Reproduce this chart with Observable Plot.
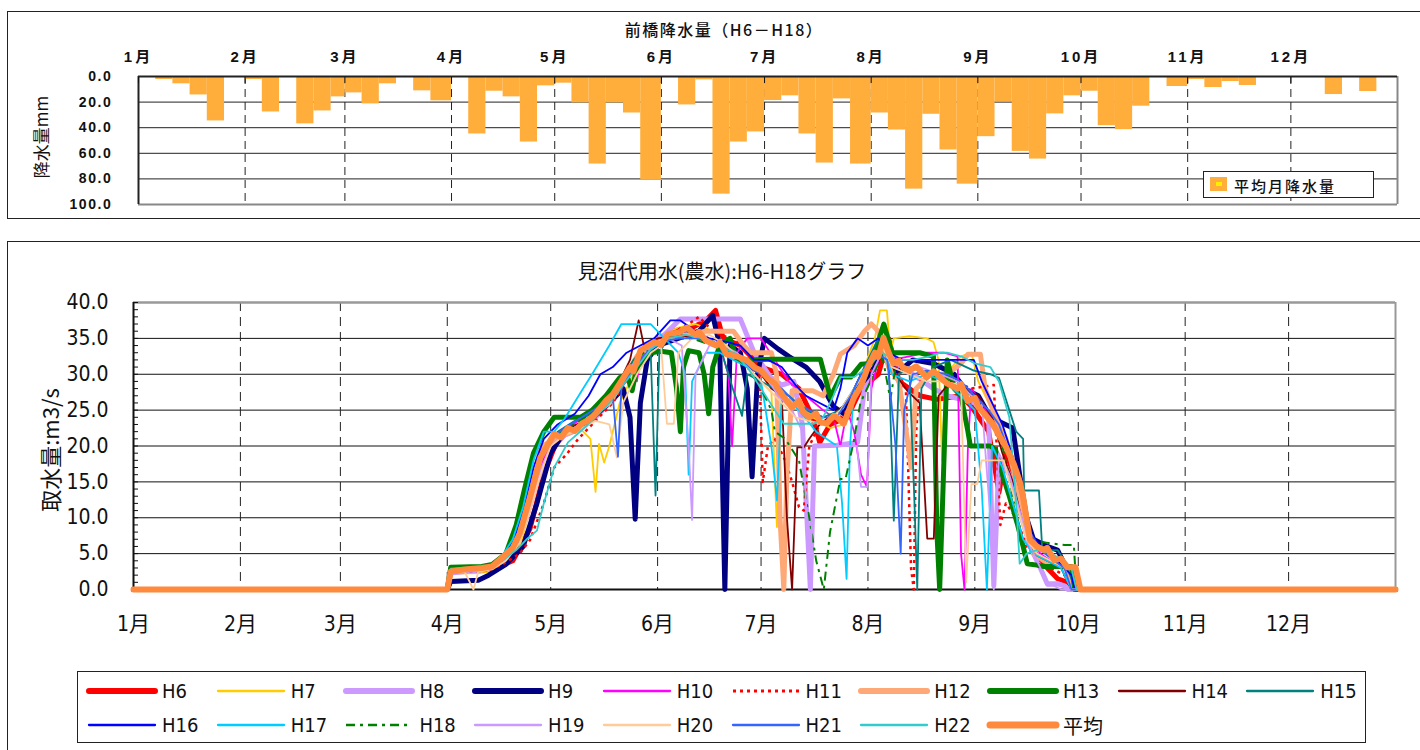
<!DOCTYPE html>
<html lang="ja">
<head>
<meta charset="utf-8">
<title>見沼代用水(農水):H6-H18グラフ</title>
<script src="https://cdn.jsdelivr.net/npm/d3@7"></script>
<script src="https://cdn.jsdelivr.net/npm/@observablehq/plot@0.6"></script>
<style>
  html, body { margin: 0; padding: 0; background: #fff; }
  #page { position: relative; width: 1420px; height: 750px; overflow: hidden; background: #fff;
          font-family: "Noto Sans CJK JP", "Noto Sans", sans-serif; color: #111; }
  .panel { position: absolute; border: 1.5px solid #222; border-right: none; }
  #rain-panel { left: 7px; top: 11px; width: 1420px; height: 206px; }
  #flow-panel { left: 7px; top: 241px; width: 1420px; height: 530px; border-bottom: none; }
  .chart { position: absolute; left: 0; }
  #rain-chart { top: 0; }
  #flow-chart { top: 240px; }
  .title { position: absolute; white-space: nowrap; transform: translateX(-50%); line-height: 1; }
  #rain-title { left: 724px; top: 21px; font-size: 16px; letter-spacing: 1.5px; font-weight: 500; }
  #flow-title { left: 722px; top: 261px; font-size: 20px; font-weight: 400; }
  .ylabel { position: absolute; white-space: nowrap; line-height: 1; transform: translate(-50%, -50%) rotate(-90deg); }
  #rain-ylabel { left: 40px; top: 137px; font-size: 17px; }
  #flow-ylabel { left: 49px; top: 450px; font-size: 22px; }
  #rain-legend { position: absolute; left: 1203px; top: 171px; width: 169px; height: 25px;
                 border: 1px solid #222; background: #fff; }
  #rain-legend .sw { position: absolute; left: 6px; top: 5px; width: 17px; height: 14px; background: #ffad3b; }
  #rain-legend .sw i { position: absolute; left: 6px; top: 5px; width: 6px; height: 4px; background: #ffee00; }
  #rain-legend span { position: absolute; left: 30px; top: 3px; font-size: 15px; letter-spacing: 2px; font-weight: 500; }
  #flow-legend { position: absolute; left: 77px; top: 671px; width: 1287px; height: 70px;
                 border: 1px solid #222; background: #fff; }
  .entry { position: absolute; height: 24px; display: flex; align-items: center; }
  .entry span { margin-left: 3px; font-size: 20px;
                font-family: "Liberation Sans Narrow", "DejaVu Sans Condensed", "Noto Sans CJK JP", sans-serif; }
  #rain-chart g[aria-label="x-axis tick label"] text { letter-spacing: 3px; }
  #rain-chart g[aria-label="y-axis tick label"] text { letter-spacing: 1.6px; }
</style>
</head>
<body>
<div id="page">
  <div class="panel" id="rain-panel"></div>
  <div class="panel" id="flow-panel"></div>
  <div class="chart" id="rain-chart"></div>
  <div class="chart" id="flow-chart"></div>
  <div class="title" id="rain-title">前橋降水量（H6－H18）</div>
  <div class="title" id="flow-title">見沼代用水(農水):H6-H18グラフ</div>
  <div class="ylabel" id="rain-ylabel">降水量mm</div>
  <div class="ylabel" id="flow-ylabel">取水量:m3/s</div>
  <div id="rain-legend"><div class="sw"><i></i></div><span>平均月降水量</span></div>
  <div id="flow-legend"></div>
</div>
<script>
// ---- calendar (leap-year day axis) ----
const months = ["1月", "2月", "3月", "4月", "5月", "6月", "7月", "8月", "9月", "10月", "11月", "12月"];
const monthLengths = [31, 29, 31, 30, 31, 30, 31, 31, 30, 31, 30, 31];

// ---- axis ticks ----
const rainTicks = [0, 20, 40, 60, 80, 100];
const flowTicks = [0, 5, 10, 15, 20, 25, 30, 35, 40];

// ---- Maebashi rainfall, mm per half-decade (6 periods per month) ----
const rainfall = [
  0, 2.3, 5.7, 14.4, 34.7, 0,        // Jan
  2.3, 27.7, 0, 37, 26.9, 15.9,      // Feb
  12.8, 21.4, 5.7, 0, 11.2, 19,      // Mar
  0, 44.9, 11.5, 15.9, 51.2, 7.3,    // Apr
  5.2, 20.6, 68.4, 20.6, 28.5, 80.9, // May
  0, 22.2, 2.6, 91.9, 51.2, 43.3,    // Jun
  18.8, 15.1, 44.9, 67.6, 17.5, 68.4,// Jul
  28.5, 41.8, 88, 29.5, 57.4, 84.1,  // Aug
  47, 19.6, 58.5, 64.5, 29.2, 15.1,  // Sep
  11.5, 38.4, 41.5, 23.2, 0, 7.8,    // Oct
  2.3, 8.6, 3.9, 7.0, 0, 0,          // Nov
  0, 0, 14.1, 0, 11.7, 0             // Dec
];

// ---- daily intake, m3/s : [day of year, value] ----
const h6 = [[0,0],[91,0],[92,2.5],[104,2.8],[110,4],[115,8.5],[119,16],[123,21],[130,23],[138,26],[145,31],[150,34],[156,36],[162,36.5],[166,37.5],[168.8,38.9],[171,35],[176,34],[182,31],[188,30],[193,28],[197,24],[199,20.5],[202,23],[207,24],[211,28],[216,30],[219,35],[222,29],[228,27],[233,26.5],[240,27],[243,25.5],[248,22],[251,13.5],[253,19],[257,14],[260,6],[265,3],[268,1.5],[271,1],[273,0],[366,0]];
const h7 = [[0,0],[91,0],[92,2.2],[100,2.3],[104,2.5],[108,3.5],[112,6],[115,11],[118,17],[121,20.5],[126,21.5],[130,22.2],[132.5,21],[134,13.6],[135,20.3],[136.5,17.7],[138,20],[141,26],[145,30],[149,34],[153,35.5],[158,36.5],[163,37],[168,36],[173,33.5],[178,31],[182,29],[185,27.5],[186.6,8.7],[188,27],[192,27],[197,24],[202,22.5],[206,23],[209,27],[212,31],[215,35],[216.5,38.9],[218.5,38.9],[219.5,33],[220.5,35],[225,35.3],[230,35],[232,34.5],[233.5,32],[234.5,18],[235.5,30],[240,32.5],[243,33],[245,29],[249,25],[253,20],[256,15],[259,8],[262,5],[266,3.5],[270,2.8],[273,2],[274,0],[366,0]];
const h8 = [[0,0],[91,0],[92,2.3],[102,2.8],[107,4],[111,6.5],[114,10],[117,15],[121,19.5],[125,21.5],[130,22.5],[134,24],[138,26],[142,29],[146,32],[150,34],[154,35.5],[158.6,37.7],[168,37.7],[176,37.7],[180,33],[184.7,29.6],[188,28.5],[191.5,29],[194,23],[196.3,0],[197.5,20],[204,20.1],[210,20.5],[212,28],[215,33],[218,35],[221,31],[226,30],[232,28],[236,27],[240,26.5],[244,26],[248,24],[249.5,0.5],[251,18],[254,16],[257,11],[260,6],[263,3],[265,0.8],[268,0.8],[270,0.5],[271,0],[366,0]];
const h9 = [[0,0],[91,0],[92,1.1],[100,1.3],[103,2],[108,3.5],[113,6],[117,12],[121,19],[125,22],[131,23],[138,26],[142,28],[144,24],[145.5,9.8],[147,26],[149,32],[152,34],[158,35],[164,36],[168,38.2],[170,34],[171.5,0],[173,34],[176,33],[178,28],[179.4,15.7],[181,30],[183,35],[187,33.5],[190,32.5],[195,31],[199,29],[203,25.5],[206,24.5],[210,28],[215,31],[218,34.5],[221,30],[226,32],[232,31.5],[238,30],[241,28],[245,27],[248.5,24],[255,22.5],[257,16],[259,10],[261,7],[265,6],[268,5.5],[270,3.5],[272,2.5],[273,0],[366,0]];
const h10 = [[0,0],[91,0],[92,2.6],[102,2.9],[107,4],[111,6],[114,10],[117,16],[120,19.5],[124,22],[129,23.5],[133,24],[137,26],[141,28.5],[145,31.5],[146,29],[147,32],[151,34.5],[156,35.5],[161,36],[166,35],[170,34],[172.5,30],[173.6,20],[175,33],[178,35],[182,35],[186,32],[190,29],[195,27],[200,25],[203,24],[205,20],[207,25],[209,22],[211,16],[212.7,14.3],[214,28],[217,34],[220,32],[225,32.5],[230,33],[235,33],[239,32.5],[240,5],[241,0],[242,20],[243,28],[246,26],[250,23],[254,18.5],[257,13],[260,7],[263,5],[266,4],[270,3],[272,0],[366,0]];
const h11 = [[0,0],[91,0],[92,2.4],[102,2.6],[107,3.5],[112,5],[115,6.9],[119,12],[122,17],[125.7,18.9],[129,21],[134,23.5],[139,26],[144,30],[149,33.5],[155,35.5],[161,37],[164,38],[168,36],[173,35],[177,34],[180,32],[181.5,31],[182,23],[182.5,15],[184,20],[186,21],[189,18],[191,15],[193,11.5],[194.4,11],[196,20],[199,23],[204,23.5],[207,25],[211,29],[215,31],[219,33],[222,30],[224,28],[225.5,3],[226.3,0],[227,22],[228,29],[233,30],[238,29],[243,28],[249.5,28.5],[251.4,9],[253,12],[256,10],[259,6],[263,4],[266,3],[270,2],[272,0],[366,0]];
const h12 = [[0,0],[91,0],[92,2.8],[100,3],[104,3.2],[108,4.5],[112,8],[115,13],[118,19.8],[122,21],[127,22],[131,23.5],[135,25],[138,26],[142,29],[146,32.5],[150,34],[155,35],[161,35.5],[166,36],[170,36],[174,36],[177,34],[179,33],[185,33],[186.5,30],[187.5,10],[188.6,0],[189.5,16],[191,27.7],[197,27.7],[200,27],[203,30],[205,32.8],[209,34],[212,36],[214,37],[216,36],[219,31],[222,29],[224.4,21],[225.5,17],[227,28],[231,30],[236,30],[240,31.5],[242,32.8],[245.6,32.8],[247,28],[250,24],[253,21],[256,15],[259,9],[261,5],[264,4],[267,3.5],[271,3],[273,0],[366,0]];
const h13 = [[0,0],[91,0],[92,3.1],[101,3.2],[104,3.5],[108,5],[111,9],[113.3,13.8],[116,19],[119,22],[122,24],[129.6,24],[133,25],[137,27],[141,29.5],[143,30],[144.6,27.7],[146,31],[150,33],[153,33.2],[156,33],[157.5,28],[158.6,22],[159.5,31],[161,33.3],[164,33],[165.5,30],[166.8,24.5],[168,31],[170,34],[173,35],[175,32],[178,32],[185,32.1],[193,32.1],[199.2,32.1],[202.1,26.8],[205,29.6],[208,29.6],[211,31.4],[214,31.5],[217.6,37],[220,33],[224,33],[228,33],[232,32.5],[233,8],[233.8,0],[234.5,10],[236,32],[238,28],[240,27],[242,22],[242.7,20],[248.5,20],[250,19.5],[252,16],[254,13],[256.3,9.2],[258,6],[259.2,3.6],[262,3.4],[264,3.2],[272,3.2],[273,0],[366,0]];
const h14 = [[0,0],[91,0],[92,2.5],[102,2.8],[107,4],[111,7],[114,11],[117,17],[121,21],[126,22.5],[131,23.5],[136,25.5],[140,28],[144,32],[146.5,37.5],[148,34],[152,35],[158,35.5],[164,35],[169,34],[174,33],[178,31],[182,30],[185,28],[188,27],[189.5,10],[191,0],[192.5,19.8],[194.4,19.8],[196,21],[199,23],[203,24.5],[207,26],[211,30],[215,32],[218,34],[221,30],[224.4,27.7],[228,26],[230.2,7.1],[232.1,7.1],[233.5,27],[237,29],[241,28],[245,27],[249,24],[252,19],[255,15],[258,9],[261,5],[265,4],[269,3],[272,0],[366,0]];
const h15 = [[0,0],[91,0],[92,2.6],[102,3],[106,4],[110,6],[113,10],[116,15],[119,19],[123,22],[128,23.5],[133,24.5],[137,26],[141,29],[145,32],[148,33.5],[150,33],[151.4,13.1],[152.5,33],[155,35],[160,36],[165,35.5],[170,34],[174,27.7],[176.5,24.2],[178,30],[182,29],[186,28],[190,27],[195,25],[200,24],[205,25],[209,28],[213,32],[216,35],[219,32],[220.5,9.6],[222,30],[225,31],[226.5,12],[227.3,0],[228.5,28],[232,31],[237,32],[243.7,30.5],[248.5,30],[251,29.5],[254,25],[256,22],[258,21],[258.3,13.8],[262.6,13.8],[263.5,6],[265,5.5],[268,5.5],[270,4],[272,1.5],[274,0],[366,0]];
const h16 = [[0,0],[91,0],[92,2.7],[102,3],[106,4],[110,6.5],[113,11],[116,17],[119,21],[123,23],[128,24.5],[132,27],[135.4,30],[139,31],[143,33],[147,34],[151,35],[155.7,37.5],[158.6,37.5],[163,36],[167,35],[172,34.5],[176,34],[180,32],[184,32],[188,31],[192,28.5],[195,27],[199,26],[203,25],[205,28],[207,33],[210,35],[213,34],[216,35],[219,33],[223,32],[228,32],[232,32],[236,32],[240,32],[243.7,32],[246,29],[249,26],[252,23],[254,20],[256,17],[258,14],[260,8],[263,6],[266,5],[269,3.5],[272,2],[273,0],[366,0]];
const h17 = [[0,0],[91,0],[92,2.5],[102,2.8],[106,4],[110,7],[113,11.5],[116,18],[119,22],[122,22],[125,23.8],[130,27.7],[133,30],[138,34],[141.5,37],[146,37],[150,37],[154,35],[158,33],[160,30],[161,16],[162,29],[166,33],[170,33],[174,32],[178,31],[182,29],[185,20],[186.6,12.4],[188,27],[193,25],[198,22],[204,20],[205.5,12],[206.8,1.5],[207.8,20],[209,28],[213,31],[217,34],[220,30],[225,29],[230,30],[235,29],[240,27],[244,25],[246,14],[247.5,0],[249,20],[252,17],[255,12],[258,7],[261,5],[265,4],[269,3],[272,0],[366,0]];
const h18 = [[0,0],[91,0],[92,2.4],[102,2.7],[107,4],[111,7],[114,12],[117,17],[121,21],[126,22.5],[131,24],[136,25.5],[140,28],[145,31.5],[150,34],[156,35],[162,35],[168,34],[173,33],[178,31],[182,28],[185,25],[186,22],[189,21],[193,18],[196,10],[198,4],[200.2,0],[202,8],[205,15.4],[206.5,15.4],[208.9,20.7],[210.8,26],[214.7,30],[217,33],[219.5,26.5],[221,31],[226,31],[232,30],[238,29],[243,27],[248,24],[252,20],[255,13],[257.3,10],[260,7],[265,6.5],[270,6.2],[272.7,6.2],[273.5,0],[366,0]];
const h19 = [[0,0],[91,0],[92,2.3],[102,2.6],[107,3.8],[111,6],[114,10],[117,15.5],[121,20],[125,22],[130,23],[135,25],[139,27.5],[143,30],[147,33],[151,34],[155,35],[159,34],[161,20],[162,9.7],[163,30],[167,34],[171,34],[175,33],[179,31],[183,30],[187,27],[191,25],[194,22],[196.3,0],[197.2,20],[204,20],[209.8,20],[211,14.3],[212.8,14.3],[214,30],[218,34],[222,31],[228,31],[234,30],[239,29],[243,27],[246,26],[248.5,10],[249.5,0],[251,19],[254,16],[257,11],[260,6],[263,3],[265,0.5],[267,0.5],[269,0],[366,0]];
const h20 = [[0,0],[91,0],[92,2.5],[96,2.5],[98.6,0],[100,2.5],[104,2.8],[108,4],[112,6.5],[115,11],[118,16],[121,20],[125,21.5],[130,22.5],[134,23.5],[138,23],[140.2,18.4],[142,26],[146,30],[150,33],[153,34],[154.7,23.1],[156.7,23.1],[158,33],[162,35],[167,35.5],[172,34],[176,32],[180,30],[184,28],[188,26],[192,24],[196,23.5],[200,23],[205,25],[209,28],[213,31],[217,34],[220,31],[225,30],[230,29],[235,29],[240,28.5],[241.5,1],[243,14.7],[244.7,14.7],[246,18],[252.4,18],[254,15],[256,12],[259,7],[262,5],[266,4],[270,3],[272,0],[366,0]];
const h21 = [[0,0],[91,0],[92,2.6],[102,2.9],[107,4.2],[111,7],[114,11.5],[117,17],[121,21],[125,22.5],[130,24],[135,25.5],[139,27],[140.5,18.5],[141.5,28],[145,31],[149,33],[153,34.5],[158,35],[163,35],[168,34.5],[172,33.5],[176,32],[180,30.5],[184,29.5],[188,28],[192,26],[196,25],[200,24],[204,24],[208,27],[212,31],[215,33],[218.6,32],[221,20],[222.5,5],[223.5,25],[226,30],[230,30.5],[236,30],[240,29],[244,27],[248,25],[251,23],[254,19],[257,14],[260,8],[263,5.5],[267,4],[270,3],[272,0],[366,0]];
const h22 = [[0,0],[91,0],[92,2.9],[102,3.2],[107,4],[111,5.5],[114,7],[117,8.2],[119,12],[122,17],[126,20.5],[130,22.2],[134,24],[138,26],[142,28.5],[146,31],[150,33.5],[155,35],[160,35.5],[165,35],[170,34],[174,33],[178,31],[182,28],[186,25],[188.6,23.1],[197.3,23.1],[200,24],[203,27],[205,29.6],[209,29.6],[213,31],[217,33],[221,32],[226,32],[231,32.5],[234,33],[236,33],[240,32.5],[244,31.5],[248.5,31],[251,29],[254,24],[256,12],[257,3.6],[259,5],[262,5.5],[266,5],[270,4],[272,3],[273.5,0],[366,0]];
const average = [[0,0],[91,0],[92,2.5],[96,2.8],[101,3],[104,3.2],[107,4.5],[110,5.8],[112,7.8],[115,12.9],[118,18.4],[122,21.7],[124,21.2],[126,22.5],[128,22.1],[130,23.1],[132,23.6],[134,24.5],[137,26.3],[139,27.2],[141,28.7],[144,31],[145,30.4],[147,33.3],[149,33.9],[151,34.5],[153,34.1],[155,35.6],[158,35.8],[160.5,36.5],[163,35.5],[164,35.9],[166,34.7],[169,34],[170,34.5],[172,32.8],[175,32.5],[178,31.9],[180,31],[182,30.5],[184,29.4],[186,28.7],[188,27.2],[191,25.4],[193,26.3],[194,24.9],[196,24],[198,24.5],[199,23.4],[201,23.1],[203,24.2],[204,24],[206,23.1],[207,24.4],[209,26.8],[211,28.4],[213,31],[215,33],[216,32.4],[217.5,35.1],[219,33],[220.4,31.5],[222,31.9],[223,31],[225,30.5],[227,31.1],[230,29.6],[232,30.4],[233,30],[235,29.1],[236,28.7],[239,28],[240,28.6],[242,26.3],[244,26.7],[245,25.5],[247.6,24],[249,23.2],[251.4,21.2],[253,19.9],[255.3,17.5],[257,15.1],[258,12.9],[260,6.9],[262,6],[264,5.5],[265,5.8],[267,4.1],[269,4.3],[270.8,3.1],[273.2,3.1],[274.6,0],[366,0]];

// ---- series order, data and styling ----
const seriesNames = ["H6","H7","H8","H9","H10","H11","H12","H13","H14","H15","H16","H17","H18","H19","H20","H21","H22","平均"];
const seriesData = {H6: h6, H7: h7, H8: h8, H9: h9, H10: h10, H11: h11, H12: h12, H13: h13, H14: h14,
  H15: h15, H16: h16, H17: h17, H18: h18, H19: h19, H20: h20, H21: h21, H22: h22, "平均": average};
const seriesStyle = {
  H6:  {stroke: "#ff0000", width: 5},
  H7:  {stroke: "#ffcc00", width: 1.8},
  H8:  {stroke: "#cc99ff", width: 5},
  H9:  {stroke: "#000080", width: 5},
  H10: {stroke: "#ff00ff", width: 1.8},
  H11: {stroke: "#ff0000", width: 2.5, dash: "3,4"},
  H12: {stroke: "#ffa877", width: 5},
  H13: {stroke: "#008000", width: 5},
  H14: {stroke: "#800000", width: 1.8},
  H15: {stroke: "#008080", width: 1.8},
  H16: {stroke: "#0000ff", width: 1.8},
  H17: {stroke: "#00ccff", width: 1.8},
  H18: {stroke: "#008000", width: 2, dash: "9,5,3,5"},
  H19: {stroke: "#cc99ff", width: 1.8},
  H20: {stroke: "#ffcc99", width: 1.8},
  H21: {stroke: "#3366ff", width: 1.8},
  H22: {stroke: "#33cccc", width: 1.8},
  "平均": {stroke: "#ff8a3d", width: 6}
};

const monthStarts = Array.from(d3.cumsum([0, ...monthLengths.slice(0, 11)]));
const yearLength = d3.sum(monthLengths);
const monthLabel = d => months[monthStarts.indexOf(d)];
const boldFont = "'Liberation Sans', 'Noto Sans CJK JP', sans-serif";
const narrowFont = "'Liberation Sans Narrow', 'DejaVu Sans Condensed', 'Noto Sans CJK JP', sans-serif";

// half-decade periods: days 1-5, 6-10, ..., 26-end of month
const rainPeriods = rainfall.map((mm, i) => {
  const m = Math.floor(i / 6), k = i % 6;
  const x1 = monthStarts[m] + 5 * k;
  const x2 = k < 5 ? x1 + 5 : monthStarts[m] + monthLengths[m];
  return {x1, x2, mm};
});

// ---- rainfall chart (bars hang from the top axis) ----
const rainChart = Plot.plot({
  width: 1420, height: 220,
  marginLeft: 138, marginRight: 23, marginTop: 76, marginBottom: 16,
  style: {background: "transparent", color: "#111", overflow: "visible"},
  x: {domain: [0, yearLength], label: null},
  y: {domain: [rainTicks[0], rainTicks[rainTicks.length - 1]], reverse: true, label: null},
  marks: [
    Plot.ruleY(rainTicks.slice(1, -1), {stroke: "#222", strokeWidth: 1}),
    Plot.ruleX(monthStarts.slice(1), {stroke: "#222", strokeWidth: 1, strokeDasharray: "8,5"}),
    Plot.rectY(rainPeriods, {x1: "x1", x2: "x2", y1: 0, y2: "mm", fill: "#ffad3b"}),
    Plot.ruleY([rainTicks[rainTicks.length - 1]], {stroke: "#888", strokeWidth: 2}),
    Plot.ruleX([yearLength], {stroke: "#888", strokeWidth: 2}),
    Plot.ruleY([rainTicks[0]], {stroke: "#222", strokeWidth: 2}),
    Plot.ruleX([0], {stroke: "#222", strokeWidth: 2}),
    Plot.axisX(monthStarts, {anchor: "top", tickSize: -6, tickFormat: () => "", label: null}),
    Plot.axisX(monthStarts, {anchor: "top", tickSize: 0, tickPadding: 15, tickFormat: monthLabel, label: null,
      fontSize: 15, fontWeight: "bold", fontFamily: boldFont}),
    Plot.axisY(rainTicks, {anchor: "left", tickSize: 0, tickPadding: 26, tickFormat: d => d.toFixed(1), label: null,
      fontSize: 14, fontWeight: "bold", fontFamily: boldFont})
  ]
});
document.getElementById("rain-chart").append(rainChart);

// ---- daily intake chart ----
const flowMarks = [
  Plot.ruleY(flowTicks.slice(1, -1), {stroke: "#111", strokeWidth: 1}),
  Plot.ruleX(monthStarts.slice(1), {stroke: "#222", strokeWidth: 1, strokeDasharray: "9,6"}),
  Plot.ruleY([flowTicks[flowTicks.length - 1]], {stroke: "#999", strokeWidth: 2.5}),
  Plot.ruleX([yearLength], {stroke: "#999", strokeWidth: 2}),
  Plot.ruleY([flowTicks[0]], {stroke: "#111", strokeWidth: 2}),
  Plot.ruleX([0], {stroke: "#111", strokeWidth: 2}),
  Plot.axisY(d3.range(flowTicks[0], flowTicks[flowTicks.length - 1] + 1), {anchor: "left", tickSize: -5, tickFormat: () => "", label: null}),
  Plot.axisY(flowTicks, {anchor: "left", tickSize: 0, tickPadding: 25, tickFormat: d => d.toFixed(1), label: null,
    fontSize: 21, fontFamily: narrowFont}),
  Plot.axisX(monthStarts, {anchor: "bottom", tickSize: 0, tickPadding: 27, tickFormat: monthLabel, label: null,
    fontSize: 21, fontFamily: narrowFont})
];
for (const name of seriesNames) {
  const s = seriesStyle[name];
  flowMarks.push(Plot.line(seriesData[name], {
    stroke: s.stroke, strokeWidth: s.width,
    strokeDasharray: s.dash, strokeLinecap: s.dash ? "butt" : "round", strokeLinejoin: "round"
  }));
}
const flowChart = Plot.plot({
  width: 1420, height: 410,
  marginLeft: 133, marginRight: 25, marginTop: 62, marginBottom: 61,
  style: {background: "transparent", color: "#111", overflow: "visible"},
  x: {domain: [0, yearLength], label: null},
  y: {domain: [flowTicks[0], flowTicks[flowTicks.length - 1]], label: null},
  marks: flowMarks
});
document.getElementById("flow-chart").append(flowChart);

// ---- intake legend ----
const legend = document.getElementById("flow-legend");
seriesNames.forEach((name, i) => {
  const s = seriesStyle[name];
  const col = i < 10 ? i : i - 10, row = i < 10 ? 0 : 1;
  const entry = document.createElement("div");
  entry.className = "entry";
  entry.style.left = (7 + col * 128.7) + "px";
  entry.style.top = (row === 0 ? 7 : 41) + "px";
  const cap = s.dash ? "butt" : "round";
  const w = Math.min(s.width + (s.width > 3 ? 1 : 0.5), 7);
  entry.innerHTML =
    `<svg width="74" height="12"><line x1="4" x2="70" y1="6" y2="6" stroke="${s.stroke}" stroke-width="${w}"` +
    ` stroke-linecap="${cap}"${s.dash ? ` stroke-dasharray="${s.dash}"` : ""}/></svg><span>${name}</span>`;
  legend.append(entry);
});
</script>
</body>
</html>
